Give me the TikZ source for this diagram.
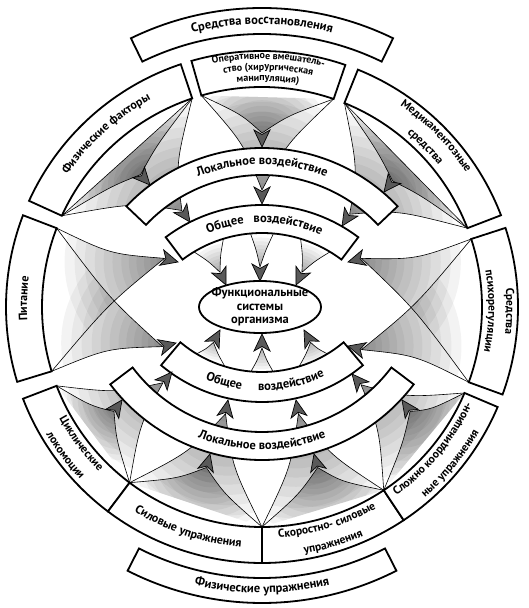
\documentclass[tikz,border=0pt]{standalone}
\usepackage{fontspec}
\setmainfont{PT Sans}
\usetikzlibrary{calc,decorations.text}
\newcommand\lf{\bfseries\fontsize{12}{13}\selectfont}
\newcommand\lft{\bfseries\fontsize{11.5}{12}\selectfont}
\newcommand\lfb{\bfseries\fontsize{12.5}{13}\selectfont}
\newcommand\lfs{\bfseries\fontsize{10}{11}\selectfont}
\pgfdeclarelayer{fanlayer}
\pgfsetlayers{fanlayer,main}
\tikzset{
  boxline/.style={draw=black,line width=1.8pt,fill=white,line join=miter},
  fanline/.style={draw=black,line width=0.6pt},
  headst/.style={draw=black,line width=0.7pt,fill=black!65,line join=miter},
  stip/.style={fill=black,fill opacity=0.048},
}
\newcommand\sect[5]{\draw[boxline] ([shift={(#2:#4)}]#1) arc[start angle=#2,end angle=#3,radius=#4] -- ([shift={(#3:#5)}]#1) arc[start angle=#3,end angle=#2,radius=#5] -- cycle;}
\newcommand\atextf[6]{\path[decorate,decoration={text along path,text align=center,text={|#6|#5}}] ([shift={(#2:#4)}]#1) arc[start angle=#2,end angle=#3,radius=#4];}
\newcommand\atext[5]{\atextf{#1}{#2}{#3}{#4}{#5}{\lf}}
% #1 A, #2 B, #3 tip, #4 direction, #5 concavity (0..1)
\newcommand\fan[5]{%
  \coordinate (hb) at ($(#3)+(#4+180:14)$);%
  \coordinate (hm) at ($($(#1)!0.5!(#2)$)!0.5!(hb)$);%
  \coordinate (ca) at ($($(#1)!0.5!(hb)$)!#5!(hm)$);%
  \coordinate (cb) at ($($(#2)!0.5!(hb)$)!#5!(hm)$);%
  \path ($(#3)-(#1)$); \pgfgetlastxy{\fx}{\fy}\pgfmathsetmacro\fanL{veclen(\fx,\fy)}%
  \begin{pgfonlayer}{fanlayer}
  \begin{scope}
  \clip (#1) .. controls (ca) .. (hb) .. controls (cb) .. (#2) -- cycle;
  \foreach \f in {0.9,0.82,0.74,0.66,0.59,0.52,0.45,0.39,0.33,0.27,0.22,0.17,0.12,0.08}{\fill[stip] (#3) circle[radius={\f*\fanL}];}
  \end{scope}
  \end{pgfonlayer}
  \draw[fanline] (#1) .. controls (ca) .. (hb) .. controls (cb) .. (#2);
}
\newcommand\head[2]{\draw[headst,shift={(#1)},rotate=#2] (0,0) -- (-17,8) -- (-12.5,0) -- (-17,-8) -- cycle;}
\begin{document}
\begin{tikzpicture}[x=1pt,y=1pt]
\useasboundingbox (0,0) rectangle (529,608);
% centres
\coordinate (O) at (262,301);
\coordinate (LT) at (262,273);
\coordinate (GT) at (262,243);
\coordinate (GB) at (262,363);
\coordinate (LB) at (262,338);
% box corners (inner radius)
\coordinate (M1) at ([shift={(21:220)}]O);
\coordinate (M2) at ([shift={(68:220)}]O);
\coordinate (OpR) at ([shift={(71:220)}]O);
\coordinate (OpL) at ([shift={(106:220)}]O);
\coordinate (F1) at ([shift={(108.5:220)}]O);
\coordinate (F2) at ([shift={(155.5:220)}]O);
\coordinate (P1) at ([shift={(159:220)}]O);
\coordinate (P2) at ([shift={(197:220)}]O);
\coordinate (S1) at ([shift={(18:220)}]O);
\coordinate (S2) at ([shift={(-20:220)}]O);
\coordinate (C1) at ([shift={(201:220)}]O);
\coordinate (C2) at ([shift={(233:220)}]O);
\coordinate (C3) at ([shift={(270:220)}]O);
\coordinate (C4) at ([shift={(303.6:220)}]O);
\coordinate (C5) at ([shift={(337:220)}]O);
% band feet
\coordinate (ha1) at ([shift={(121:132)}]GT);
\coordinate (ha2) at ([shift={(107:132)}]GT);
\coordinate (hb1) at ([shift={(95:132)}]GT);
\coordinate (hb2) at ([shift={(85:132)}]GT);
\coordinate (hc1) at ([shift={(73:132)}]GT);
\coordinate (hc2) at ([shift={(59:132)}]GT);
\coordinate (en1) at ([shift={(239:127)}]GB);
\coordinate (en2) at ([shift={(253:127)}]GB);
\coordinate (eo1) at ([shift={(265:127)}]GB);
\coordinate (eo2) at ([shift={(275:127)}]GB);
\coordinate (ep1) at ([shift={(287:127)}]GB);
\coordinate (ep2) at ([shift={(301:127)}]GB);
% tips
\coordinate (tFa) at (150,423);
\coordinate (tFb) at (262,461);
\coordinate (tFc) at (384,416);
\coordinate (tGa) at (190,386);
\coordinate (tGb) at (262,404);
\coordinate (tGc) at (342,382);
\coordinate (tHa) at (226,323);
\coordinate (tHb) at (260,327);
\coordinate (tHc) at (296,323);
\coordinate (tPa) at (178,346);
\coordinate (tPb) at (176,265);
\coordinate (tSa) at (348,346);
\coordinate (tSb) at (348,262);
\coordinate (tCa) at (122,208);
\coordinate (tCb) at (210,154);
\coordinate (tCc) at (314,154);
\coordinate (tCd) at (402,208);
\coordinate (tDa) at (172,236);
\coordinate (tDr) at (228,208);
\coordinate (tDs) at (296,208);
\coordinate (tDt) at (352,234);
\coordinate (tEn) at (220,278);
\coordinate (tEo) at (262,274);
\coordinate (tEp) at (304,278);
% fans: second level
\fan{F2}{F1}{tGa}{305}{0.35}
\fan{OpL}{OpR}{tGb}{270}{0.35}
\fan{M2}{M1}{tGc}{237}{0.35}
\fan{C1}{C2}{tDa}{50}{0.35}
\fan{C2}{C3}{tDr}{80}{0.35}
\fan{C3}{C4}{tDs}{100}{0.35}
\fan{C4}{C5}{tDt}{130}{0.35}
% fans: first level
\fan{F2}{F1}{tFa}{312}{0.3}
\fan{OpL}{OpR}{tFb}{270}{0.3}
\fan{M2}{M1}{tFc}{232}{0.3}
\fan{C1}{C2}{tCa}{55}{0.3}
\fan{C2}{C3}{tCb}{75}{0.3}
\fan{C3}{C4}{tCc}{105}{0.3}
\fan{C4}{C5}{tCd}{125}{0.3}
% side fans
\fan{P1}{P2}{tPa}{345}{0.3}
\fan{P2}{P1}{tPb}{15}{0.3}
\fan{S1}{S2}{tSa}{195}{0.3}
\fan{S2}{S1}{tSb}{165}{0.3}
% third level
\fan{ha1}{ha2}{tHa}{295}{0.2}
\fan{hb1}{hb2}{tHb}{270}{0.2}
\fan{hc1}{hc2}{tHc}{245}{0.2}
\fan{en1}{en2}{tEn}{62}{0.2}
\fan{eo1}{eo2}{tEo}{90}{0.2}
\fan{ep1}{ep2}{tEp}{118}{0.2}
% chords
\draw[fanline] (F2) -- (F1);
\draw[fanline] (M2) -- (M1);
% outer bands
\sect{O}{64}{116}{273}{299}
\sect{O}{243}{297}{271}{296}
% outer boxes
\sect{O}{21}{68}{220}{256}
\sect{O}{71}{106}{220}{256}
\sect{O}{108.5}{155.5}{220}{256}
\sect{O}{159}{197}{220}{256}
\sect{O}{201}{233}{220}{256}
\sect{O}{233}{270}{220}{256}
\sect{O}{270}{303.6}{220}{256}
\sect{O}{303.6}{337}{220}{256}
\sect{O}{-20}{18}{220}{256}
% inner bands
\sect{LT}{43.5}{136.5}{160}{187}
\sect{GT}{53}{127}{132}{160}
\sect{GB}{230}{310}{127}{157}
\sect{LB}{217}{323}{162}{190}
% ellipse
\draw[boxline] (260,301) ellipse[x radius=61,y radius=26];
\node[font=\bfseries\fontsize{12.5}{13.5}\selectfont,align=center] (fs) at (260,301) {Функциональные\\системы\\организма};
% heads
\foreach \t/\a in {tFa/312,tFb/270,tFc/232,tGa/305,tGb/270,tGc/237,tHa/295,tHb/270,tHc/245,tPa/345,tPb/15,tSa/195,tSb/165,tCa/55,tCb/75,tCc/105,tCd/125,tDa/50,tDr/80,tDs/100,tDt/130,tEn/62,tEo/90,tEp/118}{\head{\t}{\a}}
% texts
\atextf{O}{117}{63}{283}{Средства восстановления}{\lfb}
\atextf{O}{242}{298}{286}{Физические упражнения}{\lfb}
\atextf{O}{106}{71}{248}{Оперативное вмешатель-}{\lfs}
\atextf{O}{106}{71}{237}{ство (хирургическая}{\lfs}
\atextf{O}{106}{71}{226}{манипуляция)}{\lfs}
\atext{O}{155.5}{108.5}{235}{Физические факторы}
\atextf{O}{68}{21}{244.5}{Медикаментозные}{\lft}
\atextf{O}{68}{21}{226.5}{средства}{\lft}
\atext{O}{197}{159}{235}{Питание}
\atextf{O}{18}{-20}{244.5}{Средства}{\lft}
\atextf{O}{18}{-20}{226.5}{психорегуляции}{\lft}
\atextf{O}{201}{233}{231.5}{Циклические}{\lft}
\atextf{O}{201}{233}{250.5}{локомоции}{\lft}
\atext{O}{233}{270}{241}{Силовые упражнения}
\atextf{O}{270}{303.6}{231.5}{Скоростно- силовые}{\lft}
\atextf{O}{270}{303.6}{250.5}{упражнения}{\lft}
\atextf{O}{303.6}{337}{231.5}{Сложно координацион-}{\lft}
\atextf{O}{303.6}{337}{250.5}{ные упражнения}{\lft}
\atextf{LT}{136.5}{43.5}{170.5}{Локальное воздействие}{\lfb}
\atextf{GT}{124}{85.5}{142.5}{Общее}{\lfb}
\atextf{GT}{100}{59}{142.5}{воздействие}{\lfb}
\atextf{GB}{235}{274}{145.5}{Общее}{\lfb}
\atextf{GB}{261}{303}{145.5}{воздействие}{\lfb}
\atextf{LB}{217}{323}{179.5}{Локальное воздействие}{\lfb}
\end{tikzpicture}
\end{document}
